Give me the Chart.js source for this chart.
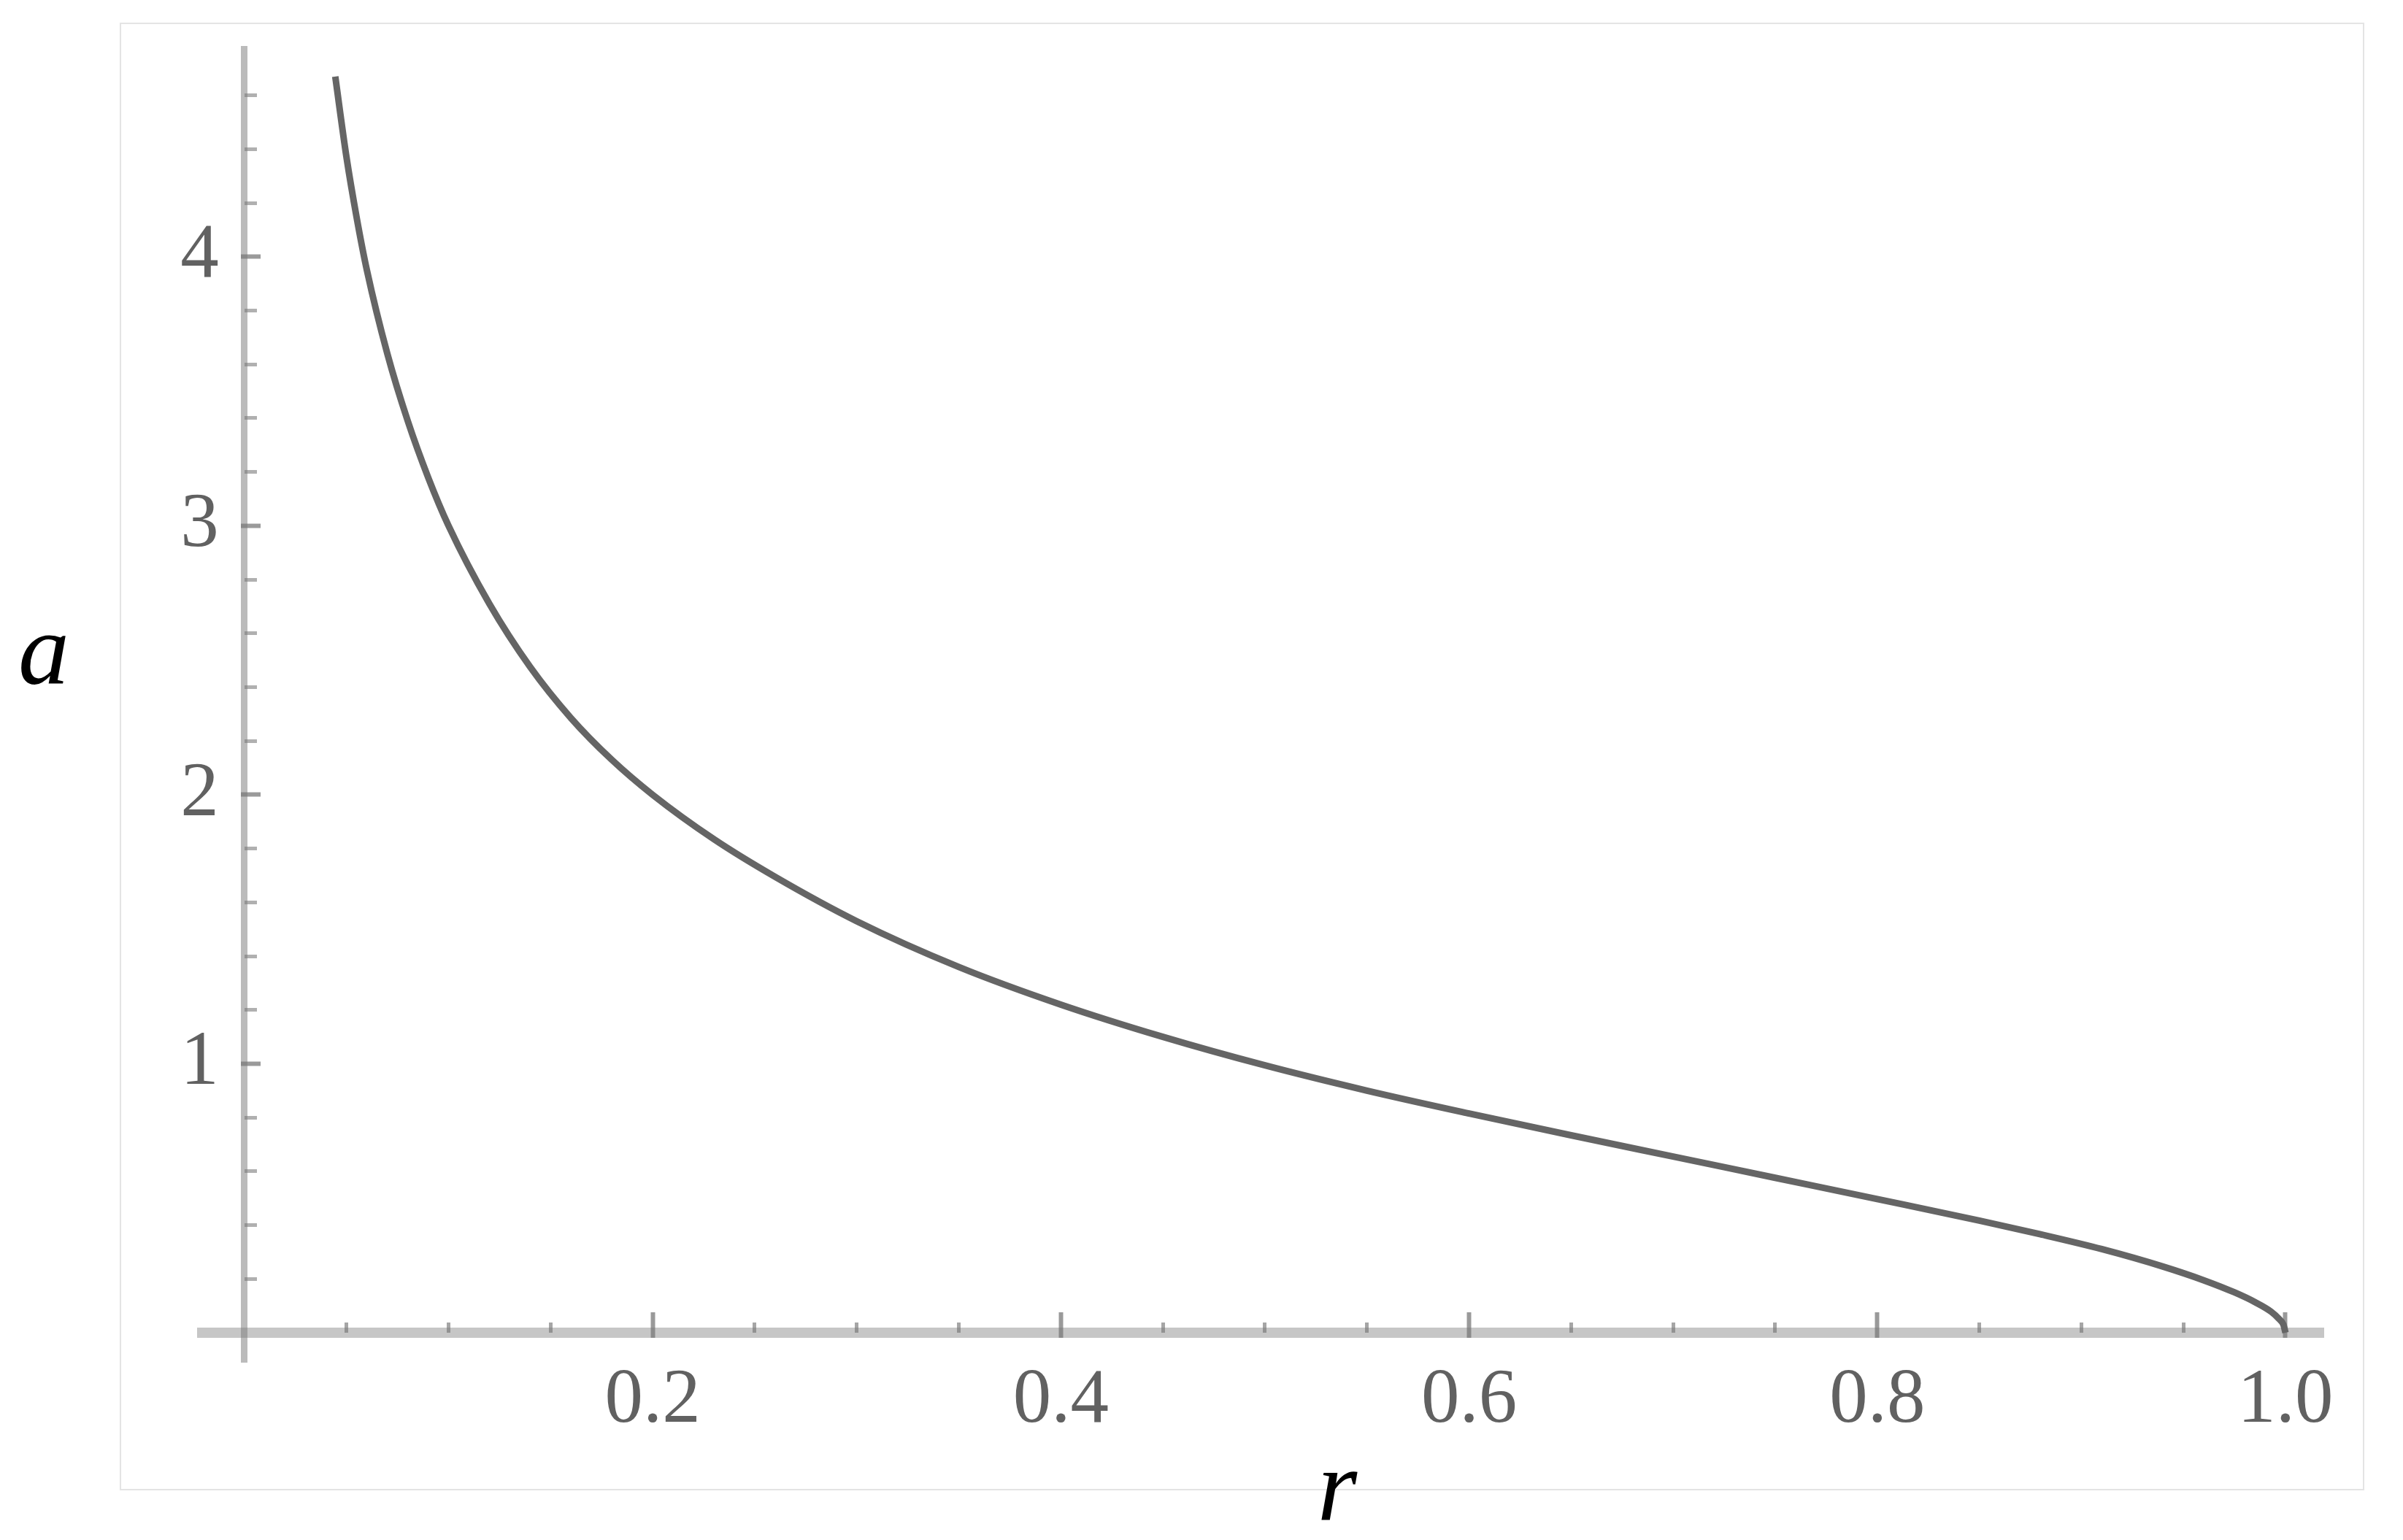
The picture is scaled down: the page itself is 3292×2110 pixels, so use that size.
<!DOCTYPE html>
<html>
<head>
<meta charset="utf-8">
<title>a against r</title>
<script src="https://cdn.jsdelivr.net/npm/chart.js@4.4.1/dist/chart.umd.min.js"></script>
<style>
	html, body { margin: 0; padding: 0; background: #ffffff; }
	#wrap { position: relative; width: 3292px; height: 2110px; }
</style>
</head>
<body>
<div id="wrap"><canvas id="plot"></canvas></div>
<script>
// Curve values.
var rValues = [0.0445, 0.05, 0.055, 0.06, 0.07, 0.08, 0.09, 0.10, 0.12, 0.14, 0.16, 0.18, 0.20, 0.23, 0.26, 0.30, 0.35, 0.40, 0.45, 0.50, 0.55, 0.60, 0.65, 0.70, 0.75, 0.80, 0.85, 0.88, 0.91, 0.94, 0.96, 0.975, 0.985, 0.993, 0.997, 0.999, 1.0];
var aValues = [4.67, 4.37, 4.145, 3.95, 3.64, 3.39, 3.18, 3.00, 2.71, 2.475, 2.285, 2.13, 2.00, 1.835, 1.695, 1.53, 1.36, 1.22, 1.10, 0.994, 0.90, 0.815, 0.734, 0.655, 0.576, 0.497, 0.417, 0.366, 0.311, 0.246, 0.195, 0.15, 0.114, 0.078, 0.05, 0.03, 0];

// Tick values and labels.
var xMajorTicks = [0.2, 0.4, 0.6, 0.8, 1.0];
var xTickLabels = ["0.2", "0.4", "0.6", "0.8", "1.0"];
var xMinorTicks = [0.05, 0.1, 0.15, 0.25, 0.3, 0.35, 0.45, 0.5, 0.55, 0.65, 0.7, 0.75, 0.85, 0.9, 0.95];
var yMajorTicks = [1, 2, 3, 4];
var yTickLabels = ["1", "2", "3", "4"];
var yMinorTicks = [0.2, 0.4, 0.6, 0.8, 1.2, 1.4, 1.6, 1.8, 2.2, 2.4, 2.6, 2.8, 3.2, 3.4, 3.6, 3.8, 4.2, 4.4, 4.6];

var xRange = [-0.0207, 1.0186];
var yRange = [-0.1085, 4.773];
var xTitle = "r";
var yTitle = "a";

var labelFont = { family: "Liberation Serif", size: 105 };

// Replace the generated ticks with a fixed list.
function fixedTicks(values) {
	return function (scale) {
		scale.ticks = values.map(function (v) {
			return { value: v };
		});
	};
}

// Light frame round the plot and the two italic axis letters.
var framePlugin = {
	id: "frame",
	beforeDraw: function (chart) {
		var c = chart.ctx;
		c.save();
		c.fillStyle = "#ffffff";
		c.fillRect(0, 0, chart.width, chart.height);
		c.strokeStyle = "#e4e4e4";
		c.lineWidth = 2;
		c.strokeRect(165, 32, 3073, 2009);
		c.restore();
	},
	afterDraw: function (chart) {
		var c = chart.ctx;
		c.save();
		c.fillStyle = "#000000";
		c.font = 'italic 140px "Liberation Serif"';
		c.textAlign = "center";
		c.textBaseline = "alphabetic";
		c.fillText(yTitle, 60, 937);
		c.fillText(xTitle, 1832, 2082);
		c.restore();
	},
};

var points = rValues.map(function (r, i) {
	return { x: r, y: aValues[i] };
});

var ctx = document.getElementById("plot");
var config = {
	type: "line",
	data: {
		datasets: [
			{
				data: points,
				xAxisID: "x",
				yAxisID: "y",
				borderColor: "#656565",
				borderWidth: 9,
				pointRadius: 0,
				fill: false,
				cubicInterpolationMode: "monotone",
			},
		],
	},
	plugins: [framePlugin],
	options: {
		responsive: true,
		maintainAspectRatio: false,
		animation: false,
		devicePixelRatio: 1,
		layout: {
			padding: { left: 277, top: 67, right: 109, bottom: 244 },
		},
		plugins: {
			legend: { display: false },
			tooltip: { enabled: false },
		},
		scales: {
			x: {
				type: "linear",
				axis: "x",
				position: { y: 0 },
				min: xRange[0],
				max: xRange[1],
				afterBuildTicks: fixedTicks(xMajorTicks),
				grid: {
					drawOnChartArea: false,
					drawTicks: true,
					tickLength: -35,
					tickWidth: 6,
					tickColor: "#9a9a9a",
				},
				border: { display: true, width: 14, color: "rgba(120,120,120,0.42)" },
				ticks: {
					autoSkip: false,
					maxRotation: 0,
					padding: 66,
					color: "#616161",
					font: labelFont,
					callback: function (value, index) {
						return xTickLabels[index];
					},
				},
			},
			xMinor: {
				type: "linear",
				axis: "x",
				position: { y: 0 },
				min: xRange[0],
				max: xRange[1],
				afterBuildTicks: fixedTicks(xMinorTicks),
				grid: {
					drawOnChartArea: false,
					drawTicks: true,
					tickLength: -14,
					tickWidth: 5,
					tickColor: "#a6a6a6",
				},
				border: { display: false },
				ticks: { display: false },
			},
			y: {
				type: "linear",
				axis: "y",
				position: { x: 0 },
				min: yRange[0],
				max: yRange[1],
				afterBuildTicks: fixedTicks(yMajorTicks),
				grid: {
					drawOnChartArea: false,
					drawTicks: true,
					tickLength: -27,
					tickWidth: 6,
					tickColor: "#9a9a9a",
				},
				border: { display: true, width: 9, color: "rgba(120,120,120,0.5)" },
				ticks: {
					autoSkip: false,
					padding: 0,
					color: "#616161",
					font: labelFont,
					callback: function (value, index) {
						// trailing spaces keep the label clear of the axis line
						return yTickLabels[index] + " \u200a";
					},
				},
			},
			yMinor: {
				type: "linear",
				axis: "y",
				position: { x: 0 },
				min: yRange[0],
				max: yRange[1],
				afterBuildTicks: fixedTicks(yMinorTicks),
				grid: {
					drawOnChartArea: false,
					drawTicks: true,
					tickLength: -17,
					tickWidth: 5,
					tickColor: "#b0b0b0",
				},
				border: { display: false },
				ticks: { display: false },
			},
		},
	},
};

window.plotChart = new Chart(ctx, config);
</script>
</body>
</html>
